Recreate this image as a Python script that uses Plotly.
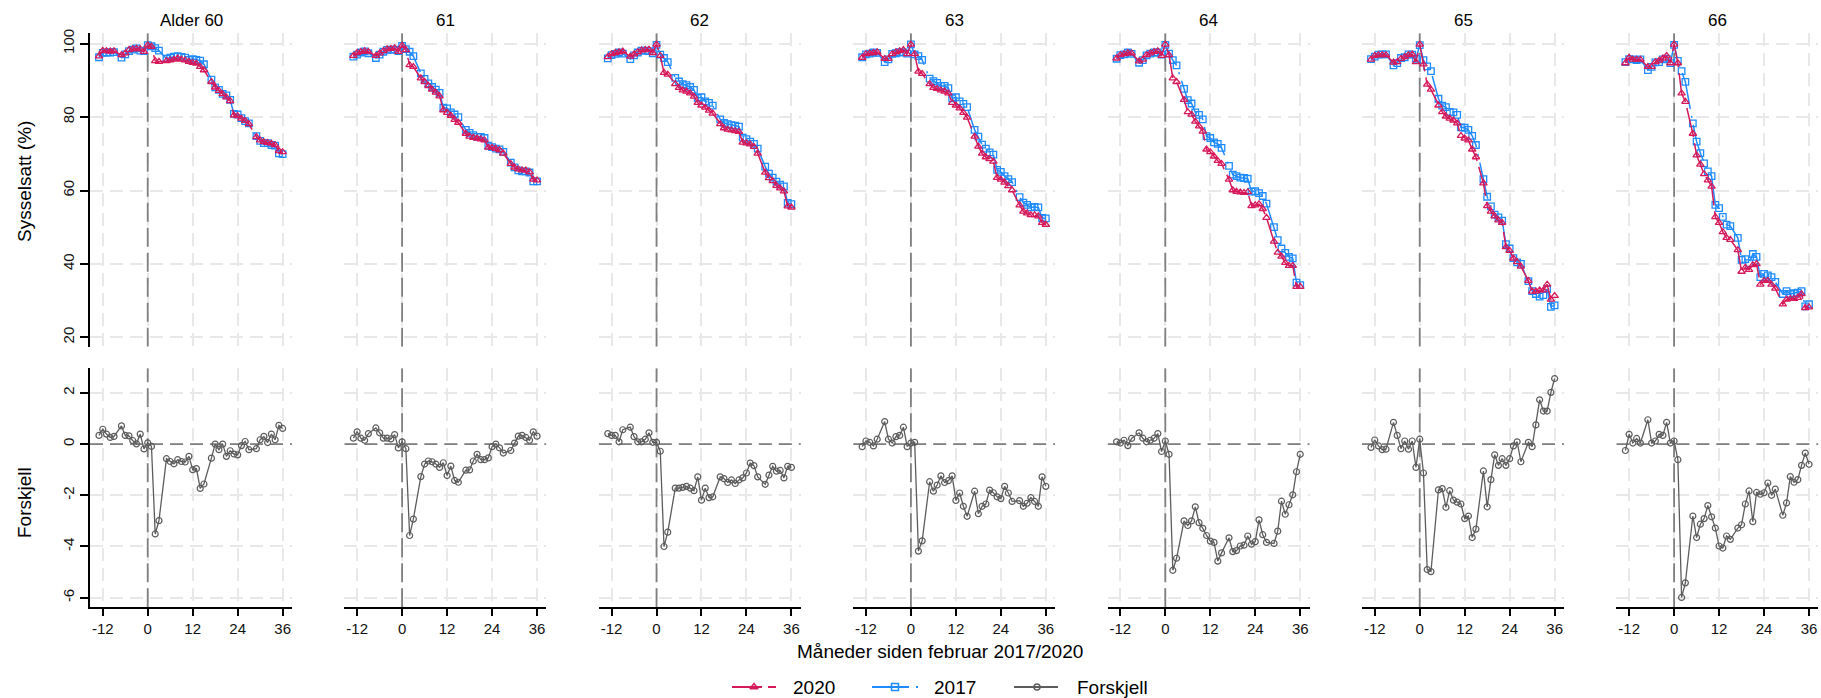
import plotly.graph_objects as go

# ---------------- data ----------------
months = [-13, -12, -11, -10, -9, -7, -6, -5, -4, -3, -2, -1, 0, 1, 2, 3,
          5, 6, 7, 8, 9, 10, 11, 12, 13, 14, 15,
          17, 18, 19, 20, 21, 22, 23, 24, 25, 26, 27,
          29, 30, 31, 32, 33, 34, 35, 36]

panel_titles = ["Alder 60", "61", "62", "63", "64", "65", "66"]
legend_labels = ["2020", "2017", "Forskjell"]

x_tick_vals = [-12, 0, 12, 24, 36]
x_tick_text = ["-12", "0", "12", "24", "36"]
top_tick_vals = [20, 40, 60, 80, 100]
top_tick_text = ["20", "40", "60", "80", "100"]
bot_tick_vals = [-6, -4, -2, 0, 2]
bot_tick_text = ["-6", "-4", "-2", "0", "2"]

# Age 60
y2020_60 = [96.6, 98.1, 98.0, 97.9, 98.0, 96.9, 97.4, 98.3, 98.5, 98.7, 98.5, 97.8, 99.6, 99.2, 95.3, 95.1,
            95.3, 95.5, 95.7, 96.0, 95.7, 95.5, 95.1, 94.8, 94.6, 93.7, 92.8,
            89.6, 88.1, 87.2, 86.3, 85.4, 84.4, 80.5, 80.3, 79.6, 79.0, 78.1,
            74.6, 73.7, 73.2, 73.0, 72.8, 72.4, 70.8, 70.5]
y2017_60 = [96.3, 97.5, 97.6, 97.6, 97.7, 96.2, 97.1, 98.0, 98.4, 98.7, 98.1, 98.0, 99.6, 99.3, 98.8, 98.1,
            95.9, 96.2, 96.5, 96.6, 96.4, 96.2, 95.6, 95.8, 95.6, 95.4, 94.4,
            90.2, 88.1, 87.4, 86.3, 85.9, 84.7, 80.9, 80.7, 79.7, 78.9, 78.3,
            74.8, 73.5, 72.9, 72.9, 72.4, 72.2, 70.1, 69.9]
diff_60 = [0.34, 0.58, 0.39, 0.26, 0.30, 0.71, 0.34, 0.32, 0.14, 0.01, 0.39, -0.19, 0.05, -0.09, -3.51, -2.99,
           -0.57, -0.68, -0.77, -0.61, -0.68, -0.70, -0.48, -1.00, -0.96, -1.73, -1.56,
           -0.55, 0.0, -0.22, 0.0, -0.48, -0.26, -0.39, -0.42, -0.06, 0.10, -0.22,
           -0.18, 0.17, 0.30, 0.06, 0.39, 0.17, 0.73, 0.61]

# Age 61
y2020_61 = [96.7, 97.5, 97.8, 98.0, 97.8, 96.7, 97.4, 98.0, 98.5, 98.6, 98.8, 97.8, 99.5, 98.3, 94.2, 93.7,
            90.6, 89.6, 88.5, 87.5, 86.7, 85.7, 81.9, 81.2, 80.4, 79.3, 78.5,
            75.5, 74.7, 74.4, 74.2, 74.0, 73.7, 71.7, 71.7, 71.4, 71.0, 70.1,
            67.3, 66.3, 65.8, 65.5, 65.5, 65.0, 63.0, 62.8]
y2017_61 = [96.5, 97.0, 97.6, 97.9, 97.4, 96.1, 97.0, 97.8, 98.3, 98.4, 98.4, 98.0, 99.4, 98.5, 97.8, 96.6,
            91.9, 90.4, 89.2, 88.2, 87.5, 86.6, 82.6, 82.4, 81.3, 80.7, 80.0,
            76.5, 75.7, 75.1, 74.6, 74.6, 74.3, 72.2, 71.8, 71.4, 71.2, 70.5,
            67.6, 66.3, 65.5, 65.2, 65.2, 64.9, 62.5, 62.5]
diff_61 = [0.23, 0.48, 0.23, 0.15, 0.41, 0.63, 0.44, 0.23, 0.23, 0.20, 0.37, -0.15, 0.09, -0.18, -3.57, -2.93,
           -1.27, -0.78, -0.66, -0.69, -0.78, -0.91, -0.73, -1.23, -0.86, -1.42, -1.49,
           -1.02, -1.01, -0.66, -0.40, -0.61, -0.61, -0.54, -0.10, 0.0, -0.15, -0.35,
           -0.25, 0.04, 0.31, 0.34, 0.26, 0.15, 0.48, 0.31]

# Age 62
y2020_62 = [96.4, 97.2, 97.5, 97.7, 97.9, 96.5, 97.1, 97.7, 98.2, 98.3, 98.4, 97.5, 99.8, 96.7, 92.1, 91.6,
            89.0, 88.0, 87.3, 87.0, 86.5, 85.6, 83.9, 83.2, 82.6, 81.8, 81.0,
            78.1, 77.0, 76.6, 76.4, 76.2, 76.0, 73.1, 72.9, 72.6, 71.9, 70.1,
            64.9, 63.4, 62.6, 61.3, 60.6, 59.8, 55.7, 55.4]
y2017_62 = [96.0, 96.9, 97.2, 97.6, 97.3, 95.8, 96.8, 97.6, 98.1, 98.1, 98.0, 97.4, 99.7, 97.0, 96.1, 95.0,
            90.7, 89.7, 89.0, 88.7, 88.2, 87.4, 85.2, 85.4, 84.3, 83.9, 83.1,
            79.4, 78.4, 78.1, 77.8, 77.7, 77.4, 74.4, 74.0, 73.3, 72.7, 71.4,
            66.5, 64.6, 63.5, 62.4, 61.6, 61.1, 56.6, 56.3]
diff_62 = [0.41, 0.34, 0.34, 0.09, 0.56, 0.66, 0.29, 0.09, 0.09, 0.19, 0.44, 0.07, 0.07, -0.28, -4.00, -3.44,
           -1.72, -1.72, -1.69, -1.65, -1.72, -1.82, -1.28, -2.19, -1.72, -2.09, -2.06,
           -1.28, -1.35, -1.50, -1.40, -1.54, -1.40, -1.32, -1.13, -0.74, -0.84, -1.28,
           -1.57, -1.21, -0.87, -1.06, -1.03, -1.32, -0.87, -0.91]

# Age 63
y2020_63 = [96.2, 97.2, 97.4, 97.5, 97.7, 95.9, 95.9, 97.2, 97.7, 98.0, 98.3, 97.2, 99.8, 97.2, 92.4, 91.8,
            89.0, 88.0, 87.7, 87.3, 87.0, 86.5, 83.9, 83.2, 82.4, 81.2, 79.9,
            74.7, 72.0, 70.1, 69.1, 68.6, 67.9, 63.5, 63.0, 62.2, 61.2, 60.1,
            56.0, 54.3, 53.8, 53.3, 53.3, 53.0, 51.2, 50.7]
y2017_63 = [96.3, 97.1, 97.3, 97.6, 97.5, 95.0, 95.7, 97.2, 97.4, 97.7, 97.6, 97.3, 99.8, 97.1, 96.6, 95.6,
            90.5, 89.8, 89.3, 88.5, 88.5, 87.9, 85.1, 85.4, 84.3, 83.6, 82.7,
            76.5, 74.7, 72.5, 71.4, 70.4, 69.8, 65.6, 65.1, 63.9, 63.1, 62.3,
            58.2, 56.7, 56.1, 55.4, 55.5, 55.4, 52.5, 52.4]
diff_63 = [-0.10, 0.12, 0.07, -0.07, 0.19, 0.88, 0.19, 0.04, 0.29, 0.34, 0.66, -0.10, 0.04, 0.07, -4.18, -3.78,
           -1.47, -1.84, -1.60, -1.24, -1.50, -1.43, -1.24, -2.20, -1.91, -2.43, -2.82,
           -1.84, -2.72, -2.43, -2.34, -1.80, -1.90, -2.06, -2.13, -1.65, -1.91, -2.24,
           -2.21, -2.43, -2.31, -2.09, -2.24, -2.43, -1.28, -1.65]

# Age 64
y2020_64 = [96.0, 96.9, 97.2, 97.5, 97.4, 95.2, 95.7, 96.9, 97.4, 97.8, 98.0, 96.7, 99.8, 96.9, 90.6, 89.6,
            84.7, 81.4, 80.7, 78.8, 77.5, 76.1, 71.2, 70.5, 69.3, 68.1, 67.3,
            63.0, 60.1, 59.7, 59.5, 59.4, 59.6, 55.8, 56.0, 56.3, 55.0, 52.6,
            46.1, 43.1, 42.0, 40.3, 39.5, 39.5, 33.8, 33.8]
y2017_64 = [95.9, 96.9, 97.1, 97.6, 97.2, 94.8, 95.5, 96.8, 97.3, 97.6, 97.6, 97.0, 99.7, 97.3, 95.5, 94.1,
            87.7, 84.6, 83.7, 81.3, 80.6, 79.4, 74.8, 74.3, 73.1, 72.7, 71.6,
            66.7, 64.3, 63.9, 63.5, 63.4, 63.2, 59.7, 59.8, 59.3, 58.5, 56.4,
            50.0, 46.5, 44.2, 43.0, 41.9, 41.5, 34.9, 34.2]
diff_64 = [0.09, 0.04, 0.15, -0.06, 0.22, 0.44, 0.23, 0.09, 0.15, 0.23, 0.41, -0.29, 0.12, -0.40, -4.93, -4.46,
           -3.00, -3.18, -3.00, -2.45, -3.07, -3.29, -3.57, -3.79, -3.84, -4.57, -4.25,
           -3.66, -4.20, -4.16, -3.98, -3.95, -3.59, -3.91, -3.81, -2.96, -3.54, -3.84,
           -3.88, -3.40, -2.23, -2.74, -2.37, -1.98, -1.08, -0.40]

# Age 65
y2020_65 = [95.7, 96.7, 96.9, 96.9, 96.9, 94.9, 95.0, 95.9, 96.4, 96.9, 97.1, 95.0, 99.8, 94.4, 88.9, 87.5,
            83.2, 81.4, 80.2, 79.6, 79.1, 78.3, 74.9, 74.2, 73.7, 71.2, 69.1,
            62.0, 55.8, 54.3, 53.0, 51.9, 51.2, 44.6, 43.6, 41.5, 40.5, 39.3,
            35.4, 32.5, 32.5, 32.8, 32.8, 34.4, 30.3, 31.3]
y2017_65 = [95.8, 96.5, 97.0, 97.1, 97.1, 94.1, 94.7, 96.1, 96.3, 97.1, 97.0, 95.9, 99.6, 95.5, 93.8, 92.5,
            85.0, 83.1, 82.7, 81.4, 81.3, 80.6, 77.2, 77.1, 76.5, 74.9, 72.4,
            63.1, 58.3, 55.7, 53.4, 52.7, 51.8, 45.4, 44.2, 41.6, 40.4, 40.0,
            35.3, 32.6, 31.8, 31.1, 31.5, 33.1, 28.3, 28.7]
diff_65 = [-0.13, 0.16, -0.07, -0.22, -0.20, 0.85, 0.34, -0.18, 0.12, -0.20, 0.12, -0.91, 0.19, -1.13, -4.90, -4.98,
           -1.79, -1.74, -2.47, -1.82, -2.19, -2.27, -2.34, -2.91, -2.81, -3.65, -3.32,
           -1.05, -2.45, -1.39, -0.42, -0.83, -0.57, -0.83, -0.57, -0.07, 0.09, -0.69,
           0.07, -0.10, 0.75, 1.73, 1.29, 1.29, 2.02, 2.56]

# Age 66
y2020_66 = [94.7, 96.2, 95.7, 95.7, 95.7, 93.7, 93.7, 95.0, 95.4, 96.0, 96.7, 94.7, 99.8, 94.7, 86.5, 84.2,
            75.5, 69.6, 67.1, 64.5, 62.8, 61.1, 52.8, 51.2, 48.7, 47.1, 46.6,
            43.8, 37.9, 39.0, 38.4, 39.7, 40.0, 34.4, 35.4, 35.4, 34.4, 33.3,
            29.0, 30.3, 30.5, 30.5, 30.8, 31.8, 28.0, 28.2]
y2017_66 = [95.0, 95.8, 95.7, 95.5, 95.7, 92.8, 93.7, 94.9, 95.0, 95.7, 95.9, 94.7, 99.7, 95.3, 92.5, 89.6,
            78.3, 73.3, 70.2, 67.4, 65.2, 63.9, 56.1, 55.2, 52.8, 50.7, 50.3,
            47.1, 41.1, 41.3, 40.2, 42.7, 41.9, 36.4, 37.3, 36.9, 36.4, 35.1,
            31.8, 32.6, 31.8, 32.0, 32.2, 32.6, 28.4, 29.0]
diff_66 = [-0.25, 0.38, 0.04, 0.22, 0.04, 0.95, 0.04, 0.12, 0.38, 0.34, 0.85, 0.04, 0.12, -0.61, -5.99, -5.42,
           -2.81, -3.65, -3.13, -2.91, -2.40, -2.84, -3.28, -3.98, -4.06, -3.59, -3.72,
           -3.28, -3.15, -2.34, -1.83, -3.03, -1.89, -1.96, -1.90, -1.52, -2.00, -1.76,
           -2.78, -2.30, -1.27, -1.49, -1.39, -0.83, -0.35, -0.79]

series_2020 = [y2020_60, y2020_61, y2020_62, y2020_63, y2020_64, y2020_65, y2020_66]
series_2017 = [y2017_60, y2017_61, y2017_62, y2017_63, y2017_64, y2017_65, y2017_66]
series_diff = [diff_60, diff_61, diff_62, diff_63, diff_64, diff_65, diff_66]

# ---------------- styling ----------------
W, H = 1821, 698
FONT = "Liberation Sans, Arial, Helvetica, sans-serif"
C2020 = "#d6195a"
C2017 = "#1f8bff"
CDIFF = "#5c5c5c"
GRID = "#e8e8e8"
REF = "#7f7f7f"
DASH2020 = "30px,6px"
DASH2017 = "37px,7px,2px,7px"

PANEL_LEFT = 90.0
PANEL_W = 202.0
PANEL_STEP = 254.4
TOP_DOM = [1 - 346.7 / H, 1 - 33.3 / H]
BOT_DOM = [1 - 607.3 / H, 1 - 368.3 / H]
X_RANGE = [-15.4, 38.5]
TOP_RANGE = [17.44, 102.83]
BOT_RANGE = [-6.375, 2.96]


def ax_name(prefix, n):
    return prefix if n == 1 else f"{prefix}{n}"


fig = go.Figure()
layout = dict(
    width=W, height=H,
    margin=dict(l=0, r=0, t=0, b=0, autoexpand=False),
    paper_bgcolor="white", plot_bgcolor="white",
    font=dict(family=FONT, color="#000000", size=15),
    showlegend=False,
)
annotations = []

for c in range(7):
    x0 = (PANEL_LEFT + PANEL_STEP * c) / W
    x1 = (PANEL_LEFT + PANEL_W + PANEL_STEP * c) / W
    nt = c + 1
    nb = c + 8
    first = (c == 0)

    common_x = dict(domain=[x0, x1], range=X_RANGE, tickvals=x_tick_vals, ticktext=x_tick_text,
                    showgrid=True, gridcolor=GRID, gridwidth=2, griddash="13px,7px",
                    zeroline=False, fixedrange=True, automargin=False)
    layout[ax_name("xaxis", nt)] = dict(common_x, anchor=ax_name("y", nt),
                                        showticklabels=False, ticks="", showline=False)
    layout[ax_name("xaxis", nb)] = dict(common_x, anchor=ax_name("y", nb),
                                        showticklabels=True, ticks="outside", ticklen=7,
                                        tickwidth=1.5, tickcolor="#000000",
                                        showline=True, linecolor="#000000", linewidth=2,
                                        tickfont=dict(size=15, color="#111111"))
    common_y = dict(showgrid=True, gridcolor=GRID, gridwidth=2, griddash="13px,7px",
                    zeroline=False, fixedrange=True, automargin=False,
                    showline=first, linecolor="#000000", linewidth=2,
                    ticks="outside" if first else "", ticklen=8, tickwidth=1.5, tickcolor="#000000",
                    showticklabels=first, tickangle=-90,
                    tickfont=dict(size=15, color="#111111"))
    layout[ax_name("yaxis", nt)] = dict(common_y, domain=TOP_DOM, range=TOP_RANGE,
                                        anchor=ax_name("x", nt),
                                        tickvals=top_tick_vals, ticktext=top_tick_text)
    layout[ax_name("yaxis", nb)] = dict(common_y, domain=BOT_DOM, range=BOT_RANGE,
                                        anchor=ax_name("x", nb),
                                        tickvals=bot_tick_vals, ticktext=bot_tick_text)

    # reference lines (x = 0 in both rows, y = 0 in lower row), drawn under the data
    ref_line = dict(color=REF, width=1.8, dash="19px,6px")
    fig.add_trace(go.Scatter(x=[0, 0], y=TOP_RANGE, xaxis=ax_name("x", nt), yaxis=ax_name("y", nt),
                             mode="lines", line=ref_line, hoverinfo="skip"))
    fig.add_trace(go.Scatter(x=[0, 0], y=BOT_RANGE, xaxis=ax_name("x", nb), yaxis=ax_name("y", nb),
                             mode="lines", line=ref_line, hoverinfo="skip"))
    fig.add_trace(go.Scatter(x=X_RANGE, y=[0, 0], xaxis=ax_name("x", nb), yaxis=ax_name("y", nb),
                             mode="lines", line=dict(color=REF, width=1.8, dash="13px,7px"),
                             hoverinfo="skip"))

    # panel title
    annotations.append(dict(text=panel_titles[c], xref="paper", yref="paper",
                            x=(x0 + x1) / 2, y=1 - 20 / H, xanchor="center", yanchor="middle",
                            showarrow=False, font=dict(size=17, color="#000000", family=FONT)))

    # data traces
    fig.add_trace(go.Scatter(
        x=months, y=series_2017[c], xaxis=ax_name("x", nt), yaxis=ax_name("y", nt),
        mode="lines+markers", name="2017",
        line=dict(color=C2017, width=1.5, dash=DASH2017),
        marker=dict(symbol="square-open", size=6.5, color=C2017, line=dict(width=1.3, color=C2017)),
    ))
    fig.add_trace(go.Scatter(
        x=months, y=series_2020[c], xaxis=ax_name("x", nt), yaxis=ax_name("y", nt),
        mode="lines+markers", name="2020",
        line=dict(color=C2020, width=1.5, dash=DASH2020),
        marker=dict(symbol="triangle-up-open", size=6.5, color=C2020, line=dict(width=1.3, color=C2020)),
    ))
    fig.add_trace(go.Scatter(
        x=months, y=series_diff[c], xaxis=ax_name("x", nb), yaxis=ax_name("y", nb),
        mode="lines+markers", name="Forskjell",
        line=dict(color=CDIFF, width=1.3),
        marker=dict(symbol="circle-open", size=6, color=CDIFF, line=dict(width=1.2, color=CDIFF)),
    ))

# ---------------- legend (drawn on an invisible pixel-scaled axis) ----------------
LEG_Y = 687
layout["xaxis15"] = dict(domain=[0, 1], range=[0, W], visible=False, fixedrange=True)
layout["yaxis15"] = dict(domain=[0, 30 / H], range=[H, H - 30], visible=False, fixedrange=True,
                         anchor="x15")
layout["xaxis15"]["anchor"] = "y15"
legend_items = [
    dict(x0=732, x1=776, xm=754, tx=791, color=C2020, dash=DASH2020, symbol="triangle-up-open", size=7),
    dict(x0=872, x1=918, xm=895, tx=932, color=C2017, dash=DASH2017, symbol="square-open", size=7),
    dict(x0=1014, x1=1058, xm=1037, tx=1075, color=CDIFF, dash="solid", symbol="circle-open", size=6),
]
for label, it in zip(legend_labels, legend_items):
    fig.add_trace(go.Scatter(x=[it["x0"], it["x1"]], y=[LEG_Y, LEG_Y], xaxis="x15", yaxis="y15",
                             mode="lines", line=dict(color=it["color"], width=2, dash=it["dash"]),
                             hoverinfo="skip"))
    fig.add_trace(go.Scatter(x=[it["xm"]], y=[LEG_Y], xaxis="x15", yaxis="y15", mode="markers",
                             marker=dict(symbol=it["symbol"], size=it["size"], color=it["color"],
                                         line=dict(width=1.5, color=it["color"])),
                             hoverinfo="skip"))
    annotations.append(dict(text=label, xref="paper", yref="paper", x=it["tx"] / W, y=1 - (LEG_Y + 0.5) / H,
                            xanchor="left", yanchor="middle", showarrow=False,
                            font=dict(size=19, color="#000000", family=FONT)))

# axis titles
annotations.append(dict(text="Sysselsatt (%)", xref="paper", yref="paper", x=25 / W, y=1 - 182 / H,
                        xanchor="center", yanchor="middle", textangle=-90, showarrow=False,
                        font=dict(size=19, color="#000000", family=FONT)))
annotations.append(dict(text="Forskjell", xref="paper", yref="paper", x=24 / W, y=1 - 503 / H,
                        xanchor="center", yanchor="middle", textangle=-90, showarrow=False,
                        font=dict(size=19, color="#000000", family=FONT)))
annotations.append(dict(text="Måneder siden februar 2017/2020", xref="paper", yref="paper",
                        x=940 / W, y=1 - 651 / H, xanchor="center", yanchor="middle",
                        showarrow=False, font=dict(size=19, color="#000000", family=FONT)))

layout["annotations"] = annotations

fig.update_layout(**layout)
fig.write_html("out.html", config={"displayModeBar": False},
               post_script="document.body.style.margin='0px';")
